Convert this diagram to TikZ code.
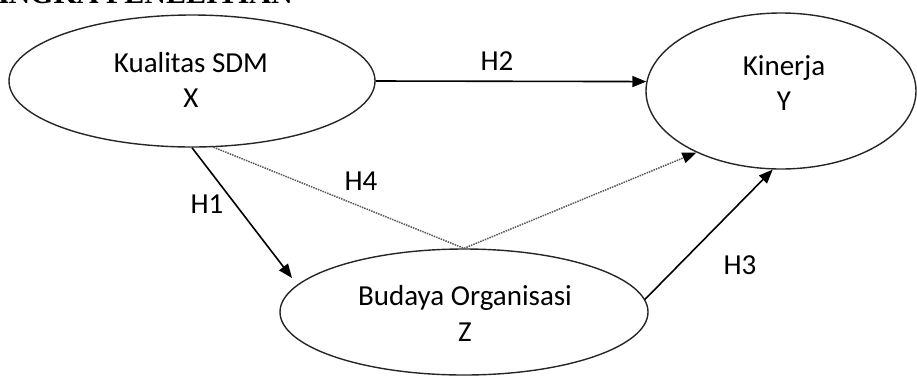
\documentclass[tikz,border=0pt]{standalone}
\usepackage{fontspec}
\setmainfont{Carlito}
\newfontfamily\headfont{Liberation Serif}
\usetikzlibrary{shapes.geometric,arrows.meta}
\begin{document}
\begin{tikzpicture}[x=1pt,y=-1pt,
 ell/.style={ellipse,draw=black!85,line width=1.4pt,inner sep=0pt},
 txt/.style={font=\fontsize{29}{35}\selectfont,anchor=base,inner sep=0pt},
 tip/.style={-{Triangle[length=14pt,width=11pt,color=black]}},
 arr/.style={line width=1.6pt,tip},
 dot/.style={line width=1.5pt,black!65,densely dotted}]
\useasboundingbox (0,0) rectangle (917,376);
\clip (0,0) rectangle (917,376);
% heading (cut off at the top)
\node[font=\headfont\bfseries\fontsize{30}{36}\selectfont,anchor=base east,inner sep=0pt] (head) at (293,3) {KERANGKA PENELITIAN};
% ellipses
\node[ell,minimum width=366pt,minimum height=132pt] (X) at (192,81) {};
\node[ell,minimum width=270pt,minimum height=156pt] (Y) at (781,91) {};
\node[ell,minimum width=368pt,minimum height=126pt] (Z) at (464,312) {};
% texts
\node[txt] (X1) at (191,72) {Kualitas SDM};
\node[txt] (X2) at (191,107) {X};
\node[txt] (Y1) at (784,75) {Kinerja};
\node[txt] (Y2) at (784,110) {Y};
\node[txt] (Z1) at (465,305) {Budaya Organisasi};
\node[txt] (Z2) at (465,341) {Z};
% connectors
\coordinate (h1end) at (292,278);
\draw[arr] (X.-0.6) -- (Y.176);
\draw[arr] (X.south) -- (h1end);
\draw[arr] (Z.4.4) -- (Y.264);
\draw[dot] (X.-72.6) -- (Z.north);
\draw[dot,tip] (Z.north) -- (Y.216);
% labels
\node[txt] (H2) at (497,70) {H2};
\node[txt] (H4) at (361,190) {H4};
\node[txt] (H1) at (207,213) {H1};
\node[txt] (H3) at (740,274) {H3};
\end{tikzpicture}
\end{document}
